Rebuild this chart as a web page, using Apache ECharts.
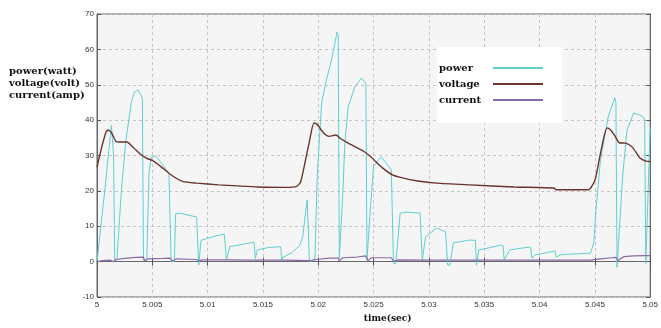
<!DOCTYPE html>
<html>
<head>
<meta charset="utf-8">
<script src="https://cdn.jsdelivr.net/npm/echarts@6/dist/echarts.min.js"></script>
<style>
    html, body { margin: 0; padding: 0; background: #fff; }
    #chart { width: 661px; height: 328px; }
</style>
</head>
<body>
<div id="chart"></div>
<script>
// 数据 (time, value)
var powerData = [
    [5.0000, 0], [5.0007, 20], [5.0013, 38.5], [5.0015, 30], [5.0016, 0.5],
    [5.0018, 0.5], [5.0022, 20], [5.0026, 34], [5.0031, 45], [5.0034, 48], [5.0037, 48.5], [5.0040, 47], [5.0041, 46], [5.0042, 0.5],
    [5.0045, 0.5], [5.0047, 25], [5.0049, 29.5], [5.0053, 29.8], [5.0058, 28], [5.0065, 25], [5.0066, 24.5], [5.0067, 0],
    [5.0070, 0], [5.0071, 13.5], [5.0075, 13.7], [5.0090, 12.6], [5.0091, 12.4], [5.0092, -1],
    [5.0093, -1], [5.0094, 6], [5.0100, 6.6], [5.0108, 7.3], [5.0115, 7.8], [5.0116, 7.6], [5.0117, 0.5],
    [5.0118, 0.5], [5.0120, 4.2], [5.0130, 4.8], [5.0142, 5.5], [5.0143, 0.9],
    [5.0144, 0.9], [5.0145, 3.3], [5.0155, 4], [5.0166, 4.2], [5.0167, 0.5],
    [5.0168, 1.2], [5.0176, 2.5], [5.0183, 4.5], [5.0186, 7], [5.0188, 12.6], [5.0190, 17.4], [5.0191, 17], [5.0192, 0],
    [5.0194, 0], [5.0197, 1], [5.0199, 24], [5.0203, 44.8], [5.0207, 51], [5.0212, 57], [5.0217, 64.9], [5.0218, 64], [5.0219, 1],
    [5.0220, 0.5], [5.0222, 18], [5.0224, 33.5], [5.0227, 43.7], [5.0233, 49.4], [5.0239, 51.9], [5.0242, 50.8], [5.0243, 50], [5.0244, 0.5],
    [5.0245, 0.5], [5.0247, 14.6], [5.0250, 27], [5.0257, 29.6], [5.0266, 25.9], [5.0267, 25.5], [5.0268, -0.5],
    [5.0270, -0.5], [5.0274, 13.7], [5.0280, 14], [5.0292, 13.7], [5.0293, 13.5], [5.0294, 0.5],
    [5.0295, 0.5], [5.0297, 7], [5.0307, 9.5], [5.0315, 8.4], [5.0316, 8.2], [5.0317, -1],
    [5.0319, -1], [5.0322, 5.3], [5.0337, 6.1], [5.0342, 6], [5.0343, -1],
    [5.0344, -1], [5.0345, 3.3], [5.0357, 4.1], [5.0365, 4.7], [5.0367, 4.5], [5.0368, 0.5],
    [5.0369, 0.5], [5.0373, 3.3], [5.0390, 4.1], [5.0392, 4], [5.0393, 1],
    [5.0394, 1.5], [5.0396, 1.9], [5.0414, 3], [5.0415, 1.3],
    [5.0416, 1.5], [5.0420, 2], [5.0446, 2.4], [5.0449, 5.3], [5.0451, 14.6], [5.0455, 28.7], [5.0462, 40.9], [5.0468, 46.3], [5.0469, 45], [5.0470, -1.6],
    [5.0471, -1.5], [5.0475, 23.9], [5.0479, 37.2], [5.0485, 42], [5.0490, 41.5], [5.0494, 40.9], [5.0495, 40], [5.0496, -0.5],
    [5.0497, 0], [5.0500, 38]
];
var voltageData = [
    [5.0000, 26.7], [5.0004, 32], [5.0008, 36.5], [5.0010, 37.2], [5.0013, 36.5], [5.0017, 34], [5.0020, 33.8], [5.0027, 33.8],
    [5.0033, 32.2], [5.0040, 30.2], [5.0045, 29.2], [5.0050, 28.6], [5.0058, 26.8], [5.0065, 25], [5.0072, 23.5], [5.0078, 22.6],
    [5.0090, 22.2], [5.0110, 21.7], [5.0127, 21.4], [5.0145, 21.1], [5.0170, 21.0], [5.0180, 21.2], [5.0184, 22.5], [5.0188, 28],
    [5.0192, 34], [5.0196, 39.2], [5.0199, 38.8], [5.0202, 37.5], [5.0206, 36], [5.0210, 35.4], [5.0216, 35.8], [5.0220, 34.8],
    [5.0227, 33.5], [5.0235, 32.2], [5.0242, 31], [5.0248, 29.5], [5.0252, 28.2], [5.0258, 26.5], [5.0267, 24.5], [5.0277, 23.6],
    [5.0290, 22.8], [5.0307, 22.2], [5.0337, 21.7], [5.0377, 21.1], [5.0413, 20.8], [5.0415, 20.3], [5.0444, 20.3], [5.0450, 23],
    [5.0454, 29], [5.0458, 35], [5.0461, 37.8], [5.0464, 37.3], [5.0468, 35.6], [5.0472, 33.6], [5.0478, 33.5], [5.0484, 32.3],
    [5.0491, 29.2], [5.0496, 28.4], [5.0500, 28.3]
];
var currentData = [
    [5.0000, 0], [5.0005, 0.3], [5.0012, 0.4], [5.0015, 0], [5.0017, 0.6], [5.0025, 0.9], [5.0035, 1.2], [5.0042, 1.3],
    [5.0043, 0.1], [5.0046, 0.8], [5.0060, 0.9], [5.0066, 1], [5.0068, 0.2], [5.0072, 0.8], [5.0090, 0.6], [5.0092, 0.2],
    [5.0095, 0.5], [5.0117, 0.5], [5.0140, 0.4], [5.0170, 0.4], [5.0193, 0.3], [5.0198, 0.6], [5.0210, 1], [5.0218, 1],
    [5.0219, 0.2], [5.0222, 1.1], [5.0235, 1.3], [5.0243, 1.6], [5.0245, 0.2], [5.0248, 1.1], [5.0266, 1.1], [5.0268, 0.1],
    [5.0272, 0.5], [5.0300, 0.4], [5.0350, 0.4], [5.0400, 0.4], [5.0446, 0.4], [5.0455, 0.8], [5.0465, 1.1], [5.0469, 1.2],
    [5.0471, 0.3], [5.0476, 1.4], [5.0485, 1.6], [5.0495, 1.7], [5.0500, 1.7]
];
var seriesNames = ['power', 'voltage', 'current'];
var seriesColors = ['#5fcfcf', '#6a342c', '#8a6aa8'];

function waveChart(divId) {
    var myChart = echarts.init(document.getElementById(divId));
    var tickLabel = { color: '#333', fontSize: 8, fontFamily: 'Liberation Sans' };
    var frameLine = { lineStyle: { color: '#666', width: 1 } };
    var grid_dash = { show: true, lineStyle: { color: '#c4c4c4', type: [3, 3] } };
    var option = {
        animation: false,
        title: {
            text: 'power(watt)\nvoltage(volt)\ncurrent(amp)',
            left: 4,
            top: 60,
            textStyle: {
                fontFamily: 'DejaVu Serif',
                fontWeight: 'bold',
                fontSize: 10,
                lineHeight: 12,
                color: '#111'
            }
        },
        legend: {
            orient: 'vertical',
            left: 437,
            top: 47,
            align: 'right',
            padding: [16, 19, 18, 2],
            itemGap: 6,
            itemWidth: 50,
            itemHeight: 2,
            icon: 'rect',
            backgroundColor: '#fff',
            // 文字左对齐, 线段在右侧
            formatter: '{n|{name}}',
            textStyle: {
                fontFamily: 'DejaVu Serif',
                fontWeight: 'bold',
                fontSize: 10,
                color: '#111',
                rich: {
                    n: {
                        width: 49,
                        align: 'left',
                        fontFamily: 'DejaVu Serif',
                        fontWeight: 'bold',
                        fontSize: 10,
                        color: '#111'
                    }
                }
            },
            data: seriesNames
        },
        grid: {
            left: 97,
            right: 3,
            top: 14,
            bottom: 31,
            show: true,
            backgroundColor: '#f5f5f5',
            borderColor: '#666'
        },
        xAxis: [{
            type: 'value',
            min: 5,
            max: 5.05,
            interval: 0.005,
            name: 'time(sec)',
            nameLocation: 'middle',
            nameGap: 16,
            nameTextStyle: {
                fontFamily: 'DejaVu Serif',
                fontWeight: 'bold',
                fontSize: 9,
                color: '#111',
                padding: [0, 0, 0, 28]
            },
            axisLine: frameLine,
            axisTick: { inside: true, length: 4, lineStyle: { color: '#555' } },
            axisLabel: Object.assign({ margin: 4 }, tickLabel),
            splitLine: grid_dash
        }, {
            type: 'value',
            position: 'top',
            min: 5,
            max: 5.05,
            interval: 0.005,
            axisLine: frameLine,
            axisTick: { inside: true, length: 4, lineStyle: { color: '#555' } },
            axisLabel: { show: false },
            splitLine: { show: false }
        }],
        yAxis: [{
            type: 'value',
            min: -10,
            max: 70,
            interval: 10,
            axisLine: frameLine,
            axisTick: { inside: true, length: 4, lineStyle: { color: '#555' } },
            axisLabel: Object.assign({ margin: 3 }, tickLabel),
            splitLine: grid_dash
        }, {
            type: 'value',
            position: 'right',
            min: -10,
            max: 70,
            interval: 10,
            axisLine: frameLine,
            axisTick: { inside: true, length: 4, lineStyle: { color: '#555' } },
            axisLabel: { show: false },
            splitLine: { show: false }
        }],
        series: [{
            name: seriesNames[0],
            type: 'line',
            data: powerData,
            showSymbol: false,
            itemStyle: { color: seriesColors[0] },
            lineStyle: { color: seriesColors[0], width: 1 }
        }, {
            name: seriesNames[1],
            type: 'line',
            data: voltageData,
            showSymbol: false,
            smooth: 0.2,
            itemStyle: { color: seriesColors[1] },
            lineStyle: { color: seriesColors[1], width: 1.4 }
        }, {
            name: seriesNames[2],
            type: 'line',
            data: currentData,
            showSymbol: false,
            itemStyle: { color: seriesColors[2] },
            lineStyle: { color: seriesColors[2], width: 1.2 }
        }]
    };
    myChart.clear();
    myChart.setOption(option);
    return myChart;
}

var myChart1 = waveChart('chart');
</script>
</body>
</html>
